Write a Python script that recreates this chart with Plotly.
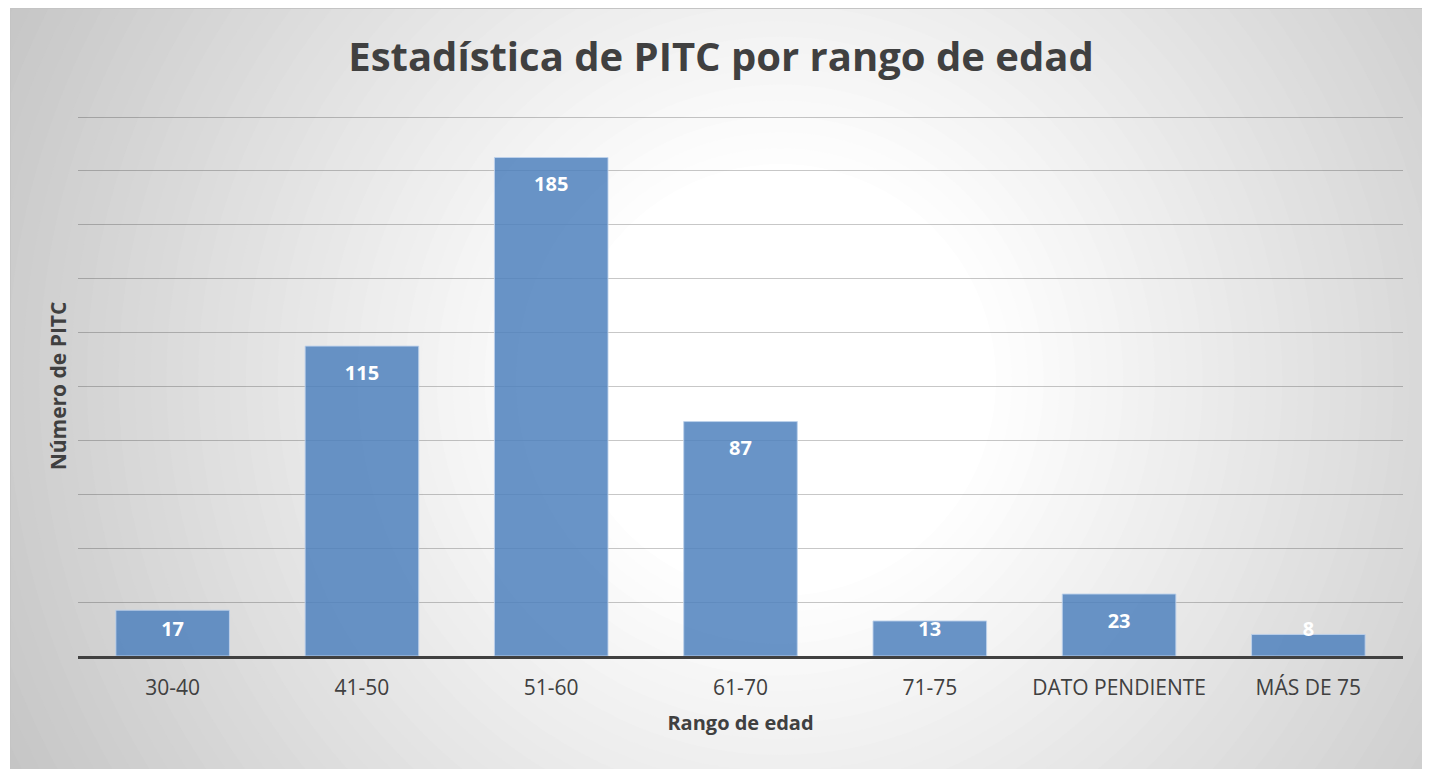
import plotly.graph_objects as go
import numpy as np

categories = ["30-40", "41-50", "51-60", "61-70", "71-75", "DATO PENDIENTE", "MÁS DE 75"]
values = [17, 115, 185, 87, 13, 23, 8]

# the page body adds an 8px offset; work in reference-pixel coordinates
OFF = 8
W, H = 1430 - OFF, 769 - OFF
ML, MR, MT, MB = 78 - OFF, 27, 116 - OFF, 113
PW, PH = W - ML - MR, H - MT - MB

def px_to_paper_x(px):
    return (px - OFF - ML) / PW

def px_to_paper_y(py):
    return (H - MB - (py - OFF)) / PH

shapes = []
cx, cy = 780, 380
radii = np.linspace(900, 200, 45)
for r in radii:
    g = 255 - max(0.0, (r - 213)) * 0.088
    g = int(round(max(190, min(255, g))))
    shapes.append(dict(
        type="circle", xref="paper", yref="paper", layer="below",
        x0=px_to_paper_x(cx - r), x1=px_to_paper_x(cx + r),
        y0=px_to_paper_y(cy + r), y1=px_to_paper_y(cy - r),
        fillcolor=f"rgb({g},{g},{g})", line=dict(width=0),
    ))
shapes.append(dict(type="rect", xref="paper", yref="paper", layer="below",
                   x0=px_to_paper_x(0), x1=px_to_paper_x(10),
                   y0=px_to_paper_y(H + OFF + 5), y1=px_to_paper_y(0),
                   fillcolor="white", line=dict(width=0)))
shapes.append(dict(type="rect", xref="paper", yref="paper", layer="below",
                   x0=px_to_paper_x(10.5), x1=px_to_paper_x(1440),
                   y0=px_to_paper_y(H + OFF + 5), y1=px_to_paper_y(8.5),
                   fillcolor="rgba(0,0,0,0)", line=dict(width=1, color="#c4c4c4")))

label_y = [max(v - 10.6, 9.3) for v in values]

fig = go.Figure()
fig.add_trace(go.Bar(
    x=categories, y=values,
    marker=dict(color="rgba(79,129,189,0.85)",
                line=dict(color="rgba(190,210,235,0.9)", width=1)),
    width=0.6, hoverinfo="x+y",
))
fig.add_trace(go.Scatter(
    x=categories, y=label_y, mode="text",
    text=[str(v) for v in values], textposition="middle center",
    textfont=dict(family="Open Sans", size=20, color="white", weight="bold"),
    hoverinfo="skip", showlegend=False,
))

fig.update_layout(
    width=W, height=H,
    margin=dict(l=ML, r=MR, t=MT, b=MB),
    paper_bgcolor="white", plot_bgcolor="rgba(0,0,0,0)",
    showlegend=False,
    shapes=shapes,
    title=dict(text="<b>Estadística de PITC por rango de edad</b>",
               x=(721 - OFF) / W, xref="container", xanchor="center",
               y=1 - (57 - OFF) / H, yanchor="middle",
               font=dict(family="Open Sans", size=40, color="#404040")),
    font=dict(family="Open Sans", color="#404040"),
    bargap=0.4,
)
fig.update_xaxes(
    showline=True, linecolor="#404040", linewidth=3,
    tickfont=dict(size=21, color="#404040"),
    ticks="", showgrid=False, ticklabelstandoff=11,
    title=dict(text="<b>Rango de edad</b>", font=dict(size=20, color="#404040"), standoff=16),
)
fig.update_yaxes(
    range=[0, 200.4], tickvals=list(range(20, 201, 20)), showticklabels=False, ticks="",
    showgrid=True, gridcolor="rgba(0,0,0,0.22)", gridwidth=1,
    zeroline=False, showline=False,
    title=dict(text="<b>Número de PITC</b>", font=dict(size=21, color="#404040"), standoff=4),
)

fig.write_html("out.html")
